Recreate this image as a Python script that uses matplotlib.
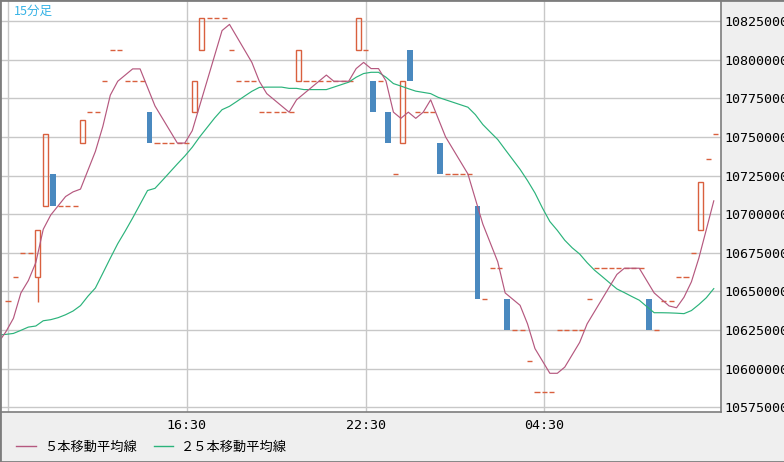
import numpy as np
import matplotlib.pyplot as plt
from matplotlib.patches import Rectangle
from matplotlib.lines import Line2D

plt.rcParams['font.family'] = ['DejaVu Sans Mono', 'Noto Sans CJK JP']

# 15 minute candles, prices in thousand yen
opens = [10644, 10659, 10675, 10675, 10659, 10705, 10726, 10705, 10705, 10705,
         10746, 10766, 10766, 10786, 10806, 10806, 10786, 10786, 10786, 10766,
         10746, 10746, 10746, 10746, 10746, 10766, 10806, 10827, 10827, 10827,
         10806, 10786, 10786, 10786, 10766, 10766, 10766, 10766, 10766, 10786,
         10786, 10786, 10786, 10786, 10786, 10786, 10786, 10806, 10806, 10786,
         10786, 10766, 10726, 10746, 10806, 10766, 10766, 10766, 10746, 10726,
         10726, 10726, 10726, 10705, 10645, 10665, 10665, 10645, 10625, 10625,
         10605, 10585, 10585, 10585, 10625, 10625, 10625, 10625, 10645, 10665,
         10665, 10665, 10665, 10665, 10665, 10665, 10645, 10625, 10644, 10644,
         10659, 10659, 10675, 10690, 10736, 10752]
highs = [10644, 10659, 10675, 10675, 10690, 10752, 10726, 10705, 10705, 10705,
         10761, 10766, 10766, 10786, 10806, 10806, 10786, 10786, 10786, 10766,
         10746, 10746, 10746, 10746, 10746, 10786, 10827, 10827, 10827, 10827,
         10806, 10786, 10786, 10786, 10766, 10766, 10766, 10766, 10766, 10806,
         10786, 10786, 10786, 10786, 10786, 10786, 10786, 10827, 10806, 10786,
         10786, 10766, 10726, 10786, 10806, 10766, 10766, 10766, 10746, 10726,
         10726, 10726, 10726, 10705, 10645, 10665, 10665, 10645, 10625, 10625,
         10605, 10585, 10585, 10585, 10625, 10625, 10625, 10625, 10645, 10665,
         10665, 10665, 10665, 10665, 10665, 10665, 10645, 10625, 10644, 10644,
         10659, 10659, 10675, 10721, 10736, 10752]
lows = [10644, 10659, 10675, 10675, 10643, 10705, 10705, 10705, 10705, 10705,
        10746, 10766, 10766, 10786, 10806, 10806, 10786, 10786, 10786, 10746,
        10746, 10746, 10746, 10746, 10746, 10766, 10806, 10827, 10827, 10827,
        10806, 10786, 10786, 10786, 10766, 10766, 10766, 10766, 10766, 10786,
        10786, 10786, 10786, 10786, 10786, 10786, 10786, 10806, 10806, 10766,
        10786, 10746, 10726, 10746, 10786, 10766, 10766, 10766, 10726, 10726,
        10726, 10726, 10726, 10645, 10645, 10665, 10665, 10625, 10625, 10625,
        10605, 10585, 10585, 10585, 10625, 10625, 10625, 10625, 10645, 10665,
        10665, 10665, 10665, 10665, 10665, 10665, 10625, 10625, 10644, 10644,
        10659, 10659, 10675, 10690, 10736, 10752]
closes = [10644, 10659, 10675, 10675, 10690, 10752, 10705, 10705, 10705, 10705,
          10761, 10766, 10766, 10786, 10806, 10806, 10786, 10786, 10786, 10746,
          10746, 10746, 10746, 10746, 10746, 10786, 10827, 10827, 10827, 10827,
          10806, 10786, 10786, 10786, 10766, 10766, 10766, 10766, 10766, 10806,
          10786, 10786, 10786, 10786, 10786, 10786, 10786, 10827, 10806, 10766,
          10786, 10746, 10726, 10786, 10786, 10766, 10766, 10766, 10726, 10726,
          10726, 10726, 10726, 10645, 10645, 10665, 10665, 10625, 10625, 10625,
          10605, 10585, 10585, 10585, 10625, 10625, 10625, 10625, 10645, 10665,
          10665, 10665, 10665, 10665, 10665, 10665, 10625, 10625, 10644, 10644,
          10659, 10659, 10675, 10721, 10736, 10752]

# moving averages, first value is the bar just off the left edge
ma5 = [10617.0, 10624.0, 10632.6, 10649.0, 10657.0, 10668.6, 10690.2, 10699.4, 10705.4, 10711.4,
       10714.4, 10716.2, 10728.4, 10740.6, 10756.8, 10777.0, 10786.0, 10790.0, 10794.0, 10794.0,
       10782.0, 10770.0, 10762.0, 10754.0, 10746.0, 10746.0, 10754.0, 10770.2, 10786.4, 10802.6,
       10818.8, 10822.8, 10814.6, 10806.4, 10798.2, 10786.0, 10778.0, 10774.0, 10770.0, 10766.0,
       10774.0, 10778.0, 10782.0, 10786.0, 10790.0, 10786.0, 10786.0, 10786.0, 10794.2, 10798.2,
       10794.2, 10794.2, 10786.2, 10766.0, 10762.0, 10766.0, 10762.0, 10766.0, 10774.0, 10762.0,
       10750.0, 10742.0, 10734.0, 10726.0, 10709.8, 10693.6, 10681.4, 10669.2, 10649.0, 10645.0,
       10641.0, 10629.0, 10613.0, 10605.0, 10597.0, 10597.0, 10601.0, 10609.0, 10617.0, 10629.0,
       10637.0, 10645.0, 10653.0, 10661.0, 10665.0, 10665.0, 10665.0, 10657.0, 10649.0, 10644.8,
       10640.6, 10639.4, 10646.2, 10656.2, 10671.6, 10690.0, 10708.6]
ma25 = [10621.8, 10622.2, 10622.8, 10624.8, 10626.9, 10627.6, 10631.0, 10631.7, 10633.0, 10634.9,
        10637.3, 10640.8, 10646.9, 10652.2, 10661.8, 10671.5, 10680.9, 10689.0, 10697.5, 10706.4,
        10715.3, 10716.7, 10721.9, 10727.2, 10732.5, 10737.6, 10743.3, 10750.0, 10756.1, 10762.2,
        10767.6, 10769.8, 10773.0, 10776.3, 10779.5, 10782.0, 10782.2, 10782.2, 10782.2, 10781.4,
        10781.4, 10780.6, 10780.6, 10780.6, 10780.6, 10782.2, 10783.8, 10785.4, 10788.6, 10791.0,
        10791.8, 10791.8, 10788.6, 10784.5, 10782.9, 10781.2, 10779.6, 10778.8, 10778.0, 10775.6,
        10774.0, 10772.4, 10770.8, 10769.2, 10764.4, 10758.0, 10753.1, 10748.3, 10741.8, 10735.4,
        10729.0, 10721.7, 10713.7, 10704.0, 10695.2, 10689.5, 10683.1, 10678.2, 10674.2, 10668.6,
        10663.7, 10659.7, 10655.6, 10651.6, 10649.2, 10646.7, 10644.3, 10640.2, 10636.2, 10636.2,
        10636.1, 10635.9, 10635.6, 10637.6, 10641.5, 10645.9, 10651.8]

time_pos = [0, 24, 48, 72]
time_labels = ["", "16:30", "22:30", "04:30"]
price_ticks = list(range(10575000, 10825001, 25000))

up_col = "#d9603e"
down_col = "#4a89bf"
ma5_col = "#b5587f"
ma25_col = "#2bb37b"
panel = "#efefef"
frame = "#7d7d7d"

o = np.array(opens) * 1000
h = np.array(highs) * 1000
l = np.array(lows) * 1000
c = np.array(closes) * 1000
idx = np.arange(len(o))

fig = plt.figure(figsize=(7.84, 4.62), dpi=100, facecolor=panel)
ax = fig.add_axes([1 / 784, 50 / 462, 720 / 784, 411 / 462])
ax.set_facecolor("white")

for i in idx:
    lo, hi = min(o[i], c[i]), max(o[i], c[i])
    if l[i] < lo:
        ax.vlines(i, l[i], lo, color=up_col if c[i] >= o[i] else down_col, lw=1, zorder=2)
    if h[i] > hi:
        ax.vlines(i, hi, h[i], color=up_col if c[i] >= o[i] else down_col, lw=1, zorder=2)
    if o[i] == c[i]:
        ax.hlines(o[i], i - 0.34, i + 0.34, color=up_col, lw=1, zorder=2)
    elif c[i] > o[i]:
        ax.add_patch(Rectangle((i - 0.33, o[i]), 0.66, c[i] - o[i], fill=False,
                               edgecolor=up_col, lw=1, zorder=2))
    else:
        ax.add_patch(Rectangle((i - 0.38, c[i]), 0.76, o[i] - c[i],
                               facecolor=down_col, edgecolor="none", zorder=2))

ma_x = np.arange(-1, len(o)) - 0.27
ax.plot(ma_x, np.array(ma25) * 1000, color=ma25_col, lw=0.85, zorder=3)
ax.plot(ma_x, np.array(ma5) * 1000, color=ma5_col, lw=0.85, zorder=4)

ax.set_xlim(-0.94, 95.7)
ax.set_ylim(10571950, 10837940)
ax.set_xticks(time_pos)
ax.set_xticklabels(time_labels)
ax.set_yticks(price_ticks)
ax.set_yticklabels([str(p) for p in price_ticks])
ax.yaxis.tick_right()
ax.tick_params(axis="y", length=0, pad=2.4, labelsize=9.6)
ax.tick_params(axis="x", length=0, pad=5, labelsize=9.6)
ax.grid(True, color="#c8c8c8", lw=1, zorder=0)
ax.set_axisbelow(True)

for side in ["top", "left"]:
    ax.spines[side].set_visible(False)
for side in ["right", "bottom"]:
    ax.spines[side].set_color(frame)
    ax.spines[side].set_linewidth(1.2)

ax.text(0.018, 0.99, "15分足", transform=ax.transAxes, ha="left", va="top",
        color="#37b3e6", fontsize=9, family=["Noto Sans CJK JP"])

# outer frame
fig.add_artist(Line2D([0, 0], [0, 1], transform=fig.transFigure, color=frame, lw=2))
fig.add_artist(Line2D([0, 1], [1, 1], transform=fig.transFigure, color=frame, lw=2))
fig.add_artist(Line2D([0, 1], [0, 0], transform=fig.transFigure, color=frame, lw=2))

handles = [Line2D([], [], color=ma5_col, lw=1), Line2D([], [], color=ma25_col, lw=1)]
fig.legend(handles, ["５本移動平均線", "２５本移動平均線"], loc="center left",
           bbox_to_anchor=(16 / 784, 15 / 462), ncol=2, frameon=False,
           prop={"family": ["Noto Sans CJK JP"], "size": 9.5},
           handlelength=1.5, handletextpad=0.6, columnspacing=1.3,
           borderpad=0, borderaxespad=0)

fig.savefig("out.png", dpi=100, facecolor=panel)
